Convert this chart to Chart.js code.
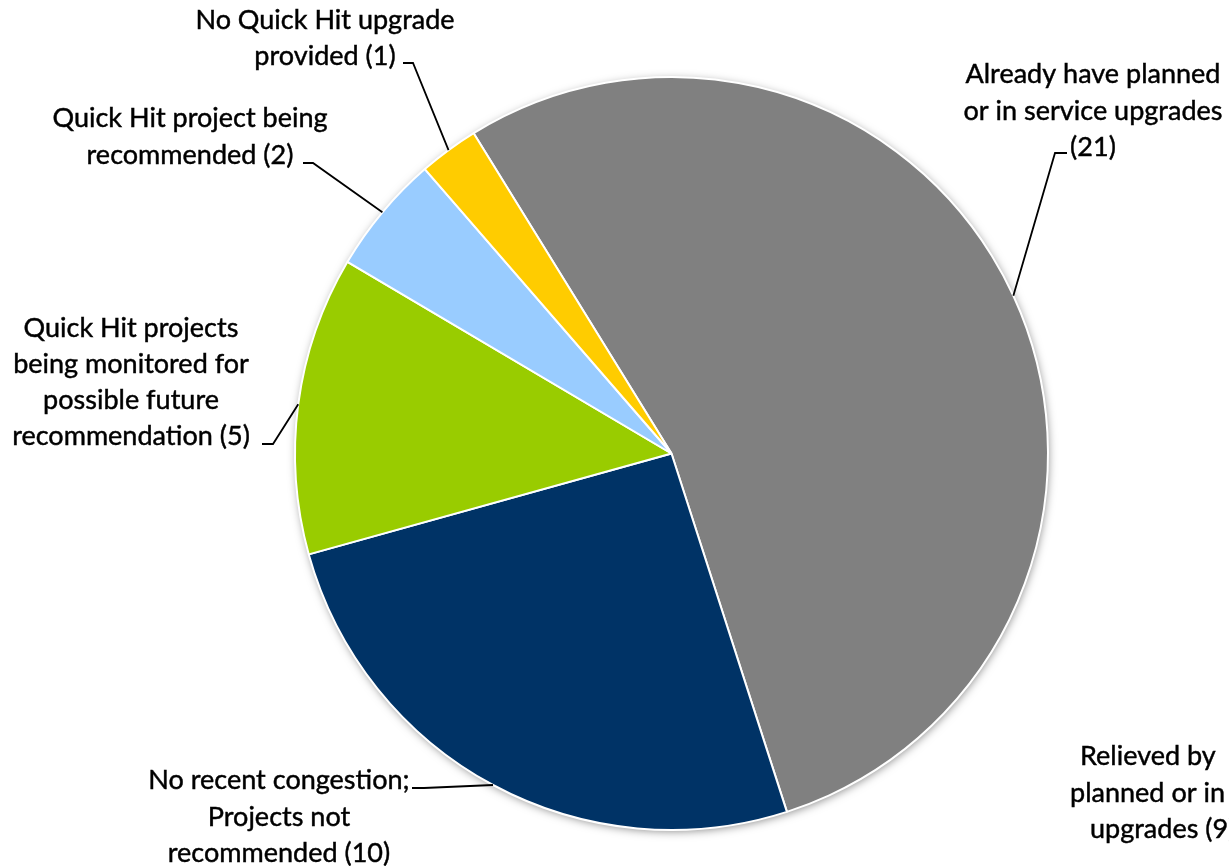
<!DOCTYPE html>
<html>
<head>
<meta charset="utf-8">
<script src="https://cdn.jsdelivr.net/npm/chart.js@4/dist/chart.umd.min.js"></script>
<style>
  html, body { margin: 0; padding: 0; background: #ffffff; }
  #wrap { width: 1229px; height: 866px; position: relative; overflow: hidden; }
  canvas { display: block; }
</style>
</head>
<body>
<div id="wrap"><canvas id="c" width="1229" height="866"></canvas></div>
<script>
// ---- data ----
const categories = [
  'Already have planned or in service upgrades',
  'No recent congestion; Projects not recommended',
  'Quick Hit projects being monitored for possible future recommendation',
  'Quick Hit project being recommended',
  'No Quick Hit upgrade provided'
];
const counts = [21, 10, 5, 2, 1];
const colors = ['#808080', '#003366', '#99CC00', '#99CCFF', '#FFCC00'];
// label text as wrapped in the picture
const labelLines = [
  ['Already have planned', 'or in service upgrades', '(21)'],
  ['No recent congestion;', 'Projects not', 'recommended (10)'],
  ['Quick Hit projects', 'being monitored for', 'possible future', 'recommendation (5)'],
  ['Quick Hit project being', 'recommended (2)'],
  ['No Quick Hit upgrade', 'provided (1)']
];
// extra category label that sits (cut off) at the bottom-right edge
const noteLines = ['Relieved by', 'planned or in service', 'upgrades (9)'];

// ---- layout (label placement, not data) ----
const labelCenters = [1093, 279, 131, 190, 325];
const labelBaselines = [
  [83, 119.5, 156],
  [789, 825.5, 862],
  [336.5, 372.5, 408.5, 444.5],
  [127, 163.5],
  [28.5, 65]
];
// leader: elbow point then end point
const leaders = [
  [[1055, 153], [1067, 153]],
  [[424, 788], [412, 788]],
  [[273, 444], [262, 444]],
  [[313, 163], [303, 163]],
  [[413, 63], [403, 63]]
];
const noteStarts = [1080, 1070, 1090];
const noteBaselines = [765, 802, 838];

const FAMILY = 'Lato, "Open Sans", sans-serif';

function fontPx(ctx) {
  ctx.save();
  ctx.font = '100px ' + FAMILY;
  const w = ctx.measureText('Already have planned').width;
  ctx.restore();
  return 100 * 255 / w;
}

const shadowPlugin = {
  id: 'pieShadow',
  beforeDatasetsDraw(chart) {
    const arc = chart.getDatasetMeta(0).data[0];
    if (!arc) return;
    const ctx = chart.ctx;
    ctx.save();
    ctx.shadowColor = 'rgba(0,0,0,0.5)';
    ctx.shadowBlur = 10;
    ctx.shadowOffsetX = 1;
    ctx.shadowOffsetY = 2;
    ctx.fillStyle = '#ffffff';
    ctx.beginPath();
    ctx.arc(arc.x, arc.y, arc.outerRadius - 1, 0, Math.PI * 2);
    ctx.fill();
    ctx.restore();
  }
};

const labelPlugin = {
  id: 'pieLabels',
  afterDraw(chart) {
    const ctx = chart.ctx;
    const meta = chart.getDatasetMeta(0);
    const size = fontPx(ctx);
    ctx.save();
    // leader lines
    ctx.strokeStyle = '#000000';
    ctx.lineWidth = 1.8;
    ctx.lineJoin = 'miter';
    meta.data.forEach((arc, i) => {
      const mid = (arc.startAngle + arc.endAngle) / 2;
      const r = arc.outerRadius;
      const px = arc.x + Math.cos(mid) * r;
      const py = arc.y + Math.sin(mid) * r;
      const [elbow, end] = leaders[i];
      ctx.beginPath();
      ctx.moveTo(px, py);
      ctx.lineTo(elbow[0], elbow[1]);
      ctx.lineTo(end[0], end[1]);
      ctx.stroke();
    });
    // label text
    ctx.fillStyle = '#000000';
    ctx.strokeStyle = '#000000';
    ctx.lineWidth = 0.45;
    ctx.font = size.toFixed(2) + 'px ' + FAMILY;
    ctx.textBaseline = 'alphabetic';
    ctx.textAlign = 'center';
    labelLines.forEach((lines, i) => {
      lines.forEach((t, j) => {
        ctx.fillText(t, labelCenters[i], labelBaselines[i][j]);
        ctx.strokeText(t, labelCenters[i], labelBaselines[i][j]);
      });
    });
    ctx.textAlign = 'left';
    noteLines.forEach((t, j) => {
      ctx.fillText(t, noteStarts[j], noteBaselines[j]);
      ctx.strokeText(t, noteStarts[j], noteBaselines[j]);
    });
    ctx.restore();
  }
};

new Chart(document.getElementById('c'), {
  type: 'pie',
  data: {
    labels: categories,
    datasets: [{
      data: counts,
      backgroundColor: colors,
      borderColor: '#ffffff',
      borderWidth: 2,
      hoverOffset: 0,
      offset: 0
    }]
  },
  options: {
    responsive: false,
    animation: false,
    devicePixelRatio: 1,
    rotation: -31.7,
    radius: 376.5,
    layout: { padding: { left: 296, right: 182, top: 78, bottom: 37 } },
    plugins: {
      legend: { display: false },
      tooltip: { enabled: false },
      title: { display: false }
    },
    events: []
  },
  plugins: [shadowPlugin, labelPlugin]
});
</script>
</body>
</html>
